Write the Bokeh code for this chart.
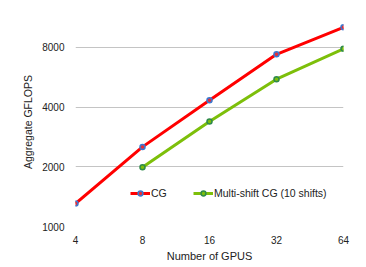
from bokeh.plotting import figure
from bokeh.models import FixedTicker, PrintfTickFormatter, Legend, LegendItem, Range1d
from bokeh.embed import file_html
from bokeh.resources import INLINE

gpus = [4, 8, 16, 32, 64]
cg = [1305, 2520, 4330, 7380, 10100]
ms_gpus = [8, 16, 32, 64]
ms = [1990, 3380, 5530, 7870]
y_ticks = [1000, 2000, 4000, 8000]

FONT = "Liberation Sans"

p = figure(width=358, height=264, x_axis_type="log", y_axis_type="log",
           x_range=Range1d(4, 64), y_range=Range1d(1000, 11314),
           output_backend="svg", toolbar_location=None,
           min_border_left=75, min_border_right=15, min_border_top=17, min_border_bottom=37)
p.outline_line_color = None
p.background_fill_color = "white"

p.xaxis.ticker = FixedTicker(ticks=gpus)
p.yaxis.ticker = FixedTicker(ticks=y_ticks)
p.xaxis.formatter = PrintfTickFormatter(format="%d")
p.yaxis.formatter = PrintfTickFormatter(format="%d")
p.xgrid.grid_line_color = None
p.ygrid.ticker = FixedTicker(ticks=[2000, 4000, 8000])
p.ygrid.grid_line_color = "#c4c4c4"
p.ygrid.grid_line_width = 1

for ax in (p.xaxis, p.yaxis):
    ax.axis_line_color = None
    ax.major_tick_line_color = None
    ax.minor_tick_line_color = None
    ax.major_tick_out = 0
    ax.major_tick_in = 0
    ax.major_label_text_font = FONT
    ax.major_label_text_font_size = "10px"
    ax.major_label_text_color = "#222222"
    ax.axis_label_text_font = FONT
    ax.axis_label_text_font_style = "normal"
    ax.axis_label_text_color = "#222222"

p.xaxis.axis_label = "Number of GPUS"
p.yaxis.axis_label = "Aggregate GFLOPS"
p.xaxis.axis_label_text_font_size = "11px"
p.yaxis.axis_label_text_font_size = "10.5px"
p.xaxis.major_label_standoff = 9
p.yaxis.major_label_standoff = 11
p.xaxis.axis_label_standoff = 3
p.yaxis.axis_label_standoff = 5

l1 = p.line(gpus, cg, line_color="#ff0000", line_width=3)
c1 = p.scatter(gpus, cg, size=5, fill_color="#e0303a", line_color="#3b78d0", line_width=1.5)
l2 = p.line(ms_gpus, ms, line_color="#7dbf0a", line_width=3)
c2 = p.scatter(ms_gpus, ms, size=5, fill_color="#7dbf0a", line_color="#2e8a4a", line_width=1.5)

legend = Legend(items=[LegendItem(label="CG", renderers=[l1, c1]),
                       LegendItem(label="Multi-shift CG (10 shifts)", renderers=[l2, c2])],
                orientation="horizontal", location=(55, 27))
legend.border_line_color = None
legend.background_fill_alpha = 0
legend.padding = 0
legend.margin = 0
legend.spacing = 22
legend.glyph_width = 20
legend.glyph_height = 12
legend.label_height = 12
legend.label_standoff = 1
legend.label_text_font = FONT
legend.label_text_font_size = "10.5px"
legend.label_text_color = "#222222"
p.add_layout(legend, "center")

open("out.html", "w").write(file_html(p, INLINE))
